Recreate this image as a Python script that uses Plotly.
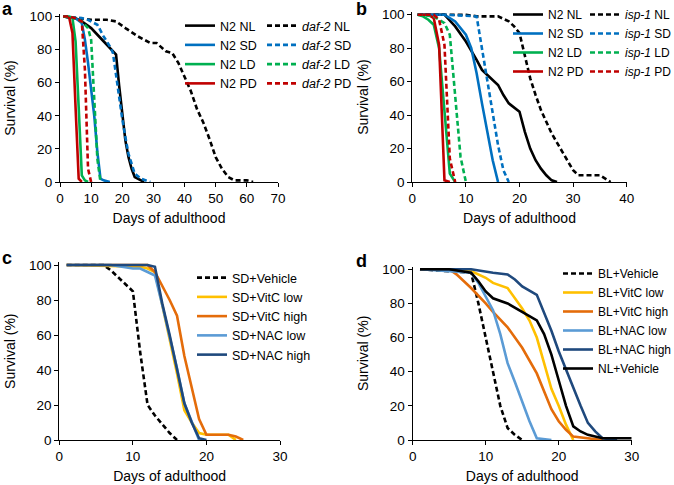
import plotly.graph_objects as go

# ---------------- Panel a (N2 vs daf-2) ----------------
a_n2_nl_day = [1, 5, 7, 10, 13, 16, 18, 19, 20, 21, 22, 23, 24, 27]
a_n2_nl_surv = [100, 99, 97, 93, 87, 81, 77, 58, 40, 25, 15, 8, 3, 0]
a_n2_sd_day = [1, 5, 7, 8, 9, 10, 11, 12, 13, 14, 16]
a_n2_sd_surv = [100, 99, 96, 86, 72, 56, 40, 18, 2, 1, 0]
a_n2_ld_day = [1, 3, 4, 5, 6, 7, 8, 9]
a_n2_ld_surv = [100, 100, 99, 85, 45, 4, 1, 0]
a_n2_pd_day = [1, 2, 3, 4, 5, 6, 7]
a_n2_pd_surv = [100, 100, 99, 90, 45, 2, 0]
a_daf_nl_day = [1, 5, 10, 15, 18, 21, 25, 29, 31, 34, 36, 38, 40, 42, 44, 46, 48, 50, 52, 54, 56, 60, 62]
a_daf_nl_surv = [100, 99, 98, 98, 97, 93, 88, 84, 84, 79, 78, 72, 64, 55, 44, 36, 26, 15, 8, 3, 1, 1, 0]
a_daf_sd_day = [1, 7, 9, 12, 14, 16, 17, 18, 19, 20, 21, 22, 24, 26, 29]
a_daf_sd_surv = [100, 99, 98, 95, 88, 82, 78, 64, 50, 38, 27, 17, 5, 2, 0]
a_daf_ld_day = [1, 5, 7, 9, 10, 11, 12, 13]
a_daf_ld_surv = [100, 99, 97, 93, 86, 50, 14, 0]
a_daf_pd_day = [1, 3, 5, 6, 7, 8, 9, 10]
a_daf_pd_surv = [100, 100, 99, 98, 97, 68, 8, 0]

# ---------------- Panel b (N2 vs isp-1) ----------------
b_n2_nl_day = [1, 6, 8, 10, 12, 13, 14, 16, 17, 18, 20, 21, 22, 23, 24, 25, 26, 27]
b_n2_nl_surv = [100, 100, 93, 84, 73, 67, 64, 58, 52, 47, 42, 30, 20, 13, 8, 4, 1, 0]
b_n2_sd_day = [1, 6, 8, 10, 11, 12, 13, 14, 15, 16]
b_n2_sd_surv = [100, 100, 96, 88, 80, 65, 47, 30, 13, 0]
b_n2_ld_day = [1, 2, 3, 4, 5, 6, 7, 8]
b_n2_ld_surv = [100, 99, 97, 94, 80, 40, 5, 0]
b_n2_pd_day = [1, 3, 4, 5, 6, 7]
b_n2_pd_surv = [100, 100, 98, 82, 1, 0]
b_isp_nl_day = [1, 10, 12, 16, 18, 19, 20, 21, 22, 23, 24, 26, 28, 30, 31, 35, 36, 37]
b_isp_nl_surv = [100, 100, 99, 99, 96, 93, 89, 75, 62, 52, 43, 29, 18, 7, 4, 4, 2, 0]
b_isp_sd_day = [1, 6, 12, 13, 14, 15, 16, 17, 18]
b_isp_sd_surv = [100, 100, 99, 80, 62, 42, 22, 7, 0]
b_isp_ld_day = [1, 4, 5, 6, 7, 8, 9, 10]
b_isp_ld_surv = [100, 99, 97, 95, 88, 52, 15, 0]
b_isp_pd_day = [1, 4, 5, 6, 7, 8]
b_isp_pd_surv = [100, 100, 97, 82, 14, 0]

# ---------------- Panel c (SD + antioxidants) ----------------
c_veh_day = [1, 6, 7, 8, 9, 10, 11, 12, 13, 14, 15, 16]
c_veh_surv = [100, 100, 97, 93, 89, 85, 50, 20, 14, 9, 4, 0]
c_vitc_low_day = [1, 11, 12, 13, 14, 15, 16, 17, 18, 19, 20, 23, 24]
c_vitc_low_surv = [100, 99, 98, 96, 77, 58, 38, 17, 10, 4, 3, 3, 0]
c_vitc_high_day = [1, 12, 13, 14, 15, 16, 17, 18, 19, 20, 23, 24, 25]
c_vitc_high_surv = [100, 100, 96, 88, 80, 71, 48, 30, 12, 3, 3, 2, 0]
c_nac_low_day = [1, 7, 10, 11, 12, 13, 14, 15, 16, 17, 18, 19]
c_nac_low_surv = [100, 100, 98, 98, 96, 94, 77, 59, 41, 21, 10, 0]
c_nac_high_day = [1, 12, 13, 14, 15, 16, 17, 18, 19, 20]
c_nac_high_surv = [100, 100, 99, 78, 60, 41, 21, 10, 1, 0]

# ---------------- Panel d (BL + antioxidants) ----------------
d_veh_day = [1, 8, 9, 10, 11, 12, 13, 14, 15]
d_veh_surv = [100, 98, 80, 60, 40, 20, 7, 3, 0]
d_vitc_low_day = [1, 8, 10, 11, 13, 14, 15, 16, 17, 18, 19, 20, 21, 22]
d_vitc_low_surv = [100, 99, 95, 92, 89, 83, 77, 70, 60, 45, 30, 20, 9, 0]
d_vitc_high_day = [1, 5, 6, 8, 10, 11, 13, 15, 17, 19, 20, 21, 22, 24, 26]
d_vitc_high_surv = [100, 100, 97, 89, 80, 75, 66, 54, 39, 18, 11, 6, 2, 1, 0]
d_nac_low_day = [1, 8, 9, 10, 11, 12, 13, 14, 15, 16, 17, 19]
d_nac_low_surv = [100, 98, 92, 84, 76, 62, 45, 34, 22, 11, 1, 0]
d_nac_high_day = [1, 8, 11, 13, 14, 15, 17, 18, 19, 20, 21, 22, 23, 24, 25, 26, 28]
d_nac_high_surv = [100, 100, 98, 97, 94, 90, 85, 75, 64, 52, 41, 30, 20, 10, 5, 1, 0]
d_nl_veh_day = [1, 5, 8, 9, 10, 11, 13, 15, 17, 18, 19, 20, 21, 22, 23, 24, 26, 30]
d_nl_veh_surv = [100, 100, 98, 93, 87, 83, 80, 75, 70, 62, 50, 35, 20, 8, 5, 3, 1, 1]

# ---------------- styles ----------------
BLACK = "#000000"
BLUE = "#0070C0"
GREEN = "#00B050"
RED = "#C00000"
YELLOW = "#FFC000"
ORANGE = "#E46C0A"
LBLUE = "#5B9BD5"
DBLUE = "#1F497D"
DASH = "5px,3px"
LW = 2.6
FONT = "Arial, Liberation Sans, Helvetica, sans-serif"

W, H = 674, 485

def xd(p0, p1):
    return [p0 / W, p1 / W]

def yd(top, bottom):
    return [1 - bottom / H, 1 - top / H]

fig = go.Figure()

def add(x, y, name, color, dash, xa, ya, legend):
    fig.add_trace(go.Scatter(
        x=x, y=y, name=name, mode="lines",
        line=dict(color=color, width=LW, dash=dash),
        xaxis=xa, yaxis=ya, legend=legend))

# panel a
add(a_n2_nl_day, a_n2_nl_surv, "N2 NL", BLACK, "solid", "x", "y", "legend")
add(a_n2_sd_day, a_n2_sd_surv, "N2 SD", BLUE, "solid", "x", "y", "legend")
add(a_n2_ld_day, a_n2_ld_surv, "N2 LD", GREEN, "solid", "x", "y", "legend")
add(a_n2_pd_day, a_n2_pd_surv, "N2 PD", RED, "solid", "x", "y", "legend")
add(a_daf_nl_day, a_daf_nl_surv, "<i>daf-2</i> NL", BLACK, DASH, "x", "y", "legend2")
add(a_daf_sd_day, a_daf_sd_surv, "<i>daf-2</i> SD", BLUE, DASH, "x", "y", "legend2")
add(a_daf_ld_day, a_daf_ld_surv, "<i>daf-2</i> LD", GREEN, DASH, "x", "y", "legend2")
add(a_daf_pd_day, a_daf_pd_surv, "<i>daf-2</i> PD", RED, DASH, "x", "y", "legend2")

# panel b
add(b_n2_nl_day, b_n2_nl_surv, "N2 NL", BLACK, "solid", "x2", "y2", "legend3")
add(b_n2_sd_day, b_n2_sd_surv, "N2 SD", BLUE, "solid", "x2", "y2", "legend3")
add(b_n2_ld_day, b_n2_ld_surv, "N2 LD", GREEN, "solid", "x2", "y2", "legend3")
add(b_n2_pd_day, b_n2_pd_surv, "N2 PD", RED, "solid", "x2", "y2", "legend3")
add(b_isp_nl_day, b_isp_nl_surv, "<i>isp-1</i> NL", BLACK, DASH, "x2", "y2", "legend4")
add(b_isp_sd_day, b_isp_sd_surv, "<i>isp-1</i> SD", BLUE, DASH, "x2", "y2", "legend4")
add(b_isp_ld_day, b_isp_ld_surv, "<i>isp-1</i> LD", GREEN, DASH, "x2", "y2", "legend4")
add(b_isp_pd_day, b_isp_pd_surv, "<i>isp-1</i> PD", RED, DASH, "x2", "y2", "legend4")

# panel c
add(c_veh_day, c_veh_surv, "SD+Vehicle", BLACK, DASH, "x3", "y3", "legend5")
add(c_vitc_low_day, c_vitc_low_surv, "SD+VitC low", YELLOW, "solid", "x3", "y3", "legend5")
add(c_vitc_high_day, c_vitc_high_surv, "SD+VitC high", ORANGE, "solid", "x3", "y3", "legend5")
add(c_nac_low_day, c_nac_low_surv, "SD+NAC low", LBLUE, "solid", "x3", "y3", "legend5")
add(c_nac_high_day, c_nac_high_surv, "SD+NAC high", DBLUE, "solid", "x3", "y3", "legend5")

# panel d
add(d_veh_day, d_veh_surv, "BL+Vehicle", BLACK, DASH, "x4", "y4", "legend6")
add(d_vitc_low_day, d_vitc_low_surv, "BL+VitC low", YELLOW, "solid", "x4", "y4", "legend6")
add(d_vitc_high_day, d_vitc_high_surv, "BL+VitC high", ORANGE, "solid", "x4", "y4", "legend6")
add(d_nac_low_day, d_nac_low_surv, "BL+NAC low", LBLUE, "solid", "x4", "y4", "legend6")
add(d_nac_high_day, d_nac_high_surv, "BL+NAC high", DBLUE, "solid", "x4", "y4", "legend6")
add(d_nl_veh_day, d_nl_veh_surv, "NL+Vehicle", BLACK, "solid", "x4", "y4", "legend6")

axis_common = dict(
    showgrid=False, zeroline=False, showline=True, linecolor="black", linewidth=1.3,
    ticks="outside", ticklen=4, tickwidth=1.3, tickcolor="black",
    tickfont=dict(family=FONT, size=13.5, color="black"), automargin=False,
)

def xaxis(dom, rng, anchor):
    return dict(axis_common, domain=dom, range=rng, dtick=10, tick0=0, anchor=anchor,
                title=dict(text="Days of adulthood", font=dict(family=FONT, size=14, color="black"), standoff=7))

def yaxis(dom, anchor):
    return dict(axis_common, domain=dom, range=[0, 101.5], dtick=20, tick0=0, anchor=anchor,
                title=dict(text="Survival (%)", font=dict(family=FONT, size=14, color="black"), standoff=10))

def leg(x, y, size=12.5):
    return dict(x=x / W, y=1 - y / H, xanchor="left", yanchor="top", bgcolor="rgba(0,0,0,0)",
                font=dict(family=FONT, size=size, color="black"), borderwidth=0, traceorder="normal")

fig.update_layout(
    width=W, height=H, margin=dict(l=0, r=0, t=0, b=0, autoexpand=False),
    paper_bgcolor="white", plot_bgcolor="white", showlegend=True,
    font=dict(family=FONT, color="black"),
    xaxis=xaxis(xd(60, 278), [0, 70], "y"),
    yaxis=yaxis(yd(16.5 - 2.5, 182), "x"),
    xaxis2=xaxis(xd(412.3, 626.7), [0, 40], "y2"),
    yaxis2=yaxis(yd(14.7 - 2.5, 182), "x2"),
    xaxis3=xaxis(xd(59.3, 280), [0, 30], "y3"),
    yaxis3=yaxis(yd(265 - 2.6, 440), "x3"),
    xaxis4=xaxis(xd(412.7, 631.7), [0, 30], "y4"),
    yaxis4=yaxis(yd(269.3 - 2.6, 440), "x4"),
    legend=leg(180, 11),
    legend2=leg(262, 11),
    legend3=leg(508, 0, 12),
    legend4=leg(585, 0, 12),
    legend5=leg(192, 263),
    legend6=leg(558, 259, 12),
)

for txt, x, y in [("a", 7, 9), ("b", 361, 9), ("c", 7, 258), ("d", 361, 261)]:
    fig.add_annotation(text="<b>%s</b>" % txt, x=x / W, y=1 - y / H, xref="paper", yref="paper",
                       xanchor="center", yanchor="middle", showarrow=False,
                       font=dict(family=FONT, size=18, color="black"))

fig.write_html("out.html", config={"displayModeBar": False},
               post_script="document.body.style.margin='0px';")
